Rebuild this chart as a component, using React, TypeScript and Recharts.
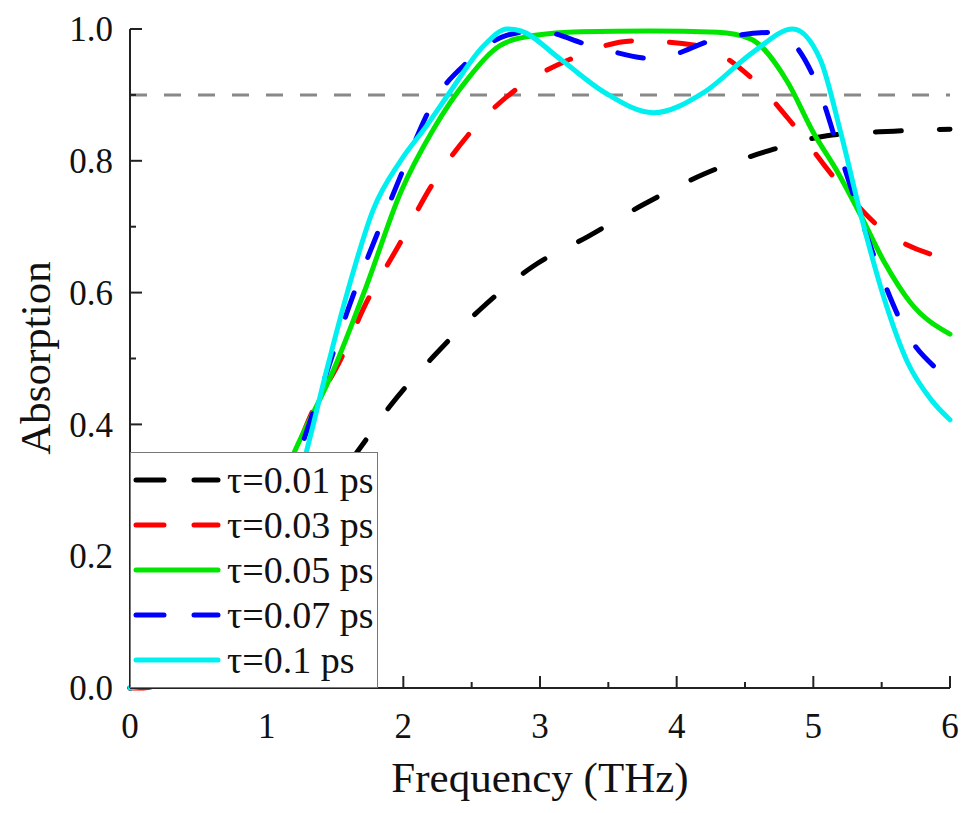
import React from "react";
import { LineChart, Line, XAxis, YAxis, ReferenceLine, Legend } from "recharts";

// Absorption spectra for different relaxation times
const freq001 = [0, 0.4, 0.8, 1.2, 1.69, 1.9, 2.22, 2.56, 2.95, 3.35, 3.76, 4.2, 4.67, 5.1, 5.59, 6.0];
const abs001 = [0, 0.05, 0.13, 0.23, 0.366, 0.427, 0.503, 0.574, 0.64, 0.685, 0.734, 0.78, 0.815, 0.838, 0.845, 0.848];

const freq003 = [0, 0.1, 0.5, 1.0, 1.34, 1.54, 1.73, 1.97, 2.2, 2.47, 2.81, 3.22, 3.69, 4.15, 4.54, 4.86, 5.15, 5.48, 5.91, 6.0];
const abs003 = [0, 0.0, 0.06, 0.24, 0.422, 0.498, 0.585, 0.673, 0.76, 0.838, 0.906, 0.954, 0.982, 0.975, 0.927, 0.853, 0.775, 0.7, 0.655, 0.65];

const freq005 = [0, 0.5, 1.0, 1.22, 1.49, 1.73, 1.98, 2.22, 2.47, 2.71, 2.95, 3.3, 3.8, 4.3, 4.54, 4.81, 5.0, 5.18, 5.35, 5.52, 5.71, 6.0];
const abs005 = [0, 0.05, 0.26, 0.366, 0.483, 0.61, 0.752, 0.848, 0.924, 0.975, 0.99, 0.996, 0.997, 0.995, 0.985, 0.92, 0.843, 0.782, 0.716, 0.646, 0.585, 0.537];

const freq007 = [0, 0.5, 1.0, 1.34, 1.64, 1.83, 2.0, 2.22, 2.47, 2.75, 2.98, 3.37, 3.83, 4.3, 4.71, 5.03, 5.2, 5.49, 5.68, 5.95, 6.0];
const abs007 = [0, 0.05, 0.22, 0.418, 0.6, 0.7, 0.787, 0.889, 0.95, 0.99, 0.997, 0.975, 0.955, 0.985, 0.995, 0.914, 0.807, 0.63, 0.54, 0.475, 0.465];

const freq01 = [0, 0.5, 1.0, 1.3, 1.44, 1.59, 1.78, 1.98, 2.17, 2.34, 2.59, 2.76, 2.86, 3.15, 3.47, 3.83, 4.2, 4.56, 4.85, 5.05, 5.2, 5.35, 5.52, 5.69, 5.86, 6.0];
const abs01 = [0, 0.03, 0.15, 0.366, 0.483, 0.6, 0.726, 0.8, 0.853, 0.904, 0.975, 1.0, 0.997, 0.954, 0.904, 0.873, 0.904, 0.965, 1.0, 0.954, 0.843, 0.716, 0.59, 0.494, 0.438, 0.407];

const xTicks = [0, 0.5, 1, 1.5, 2, 2.5, 3, 3.5, 4, 4.5, 5, 5.5, 6];
const yTicks = [0, 0.1, 0.2, 0.3, 0.4, 0.5, 0.6, 0.7, 0.8, 0.9, 1.0];
const threshold = 0.9;

const zip = (fs: number[], as: number[]) => fs.map((f, i) => ({ f, a: as[i] }));

const series = [
  { name: "τ=0.01 ps", color: "#000000", dash: "26 38", data: zip(freq001, abs001) },
  { name: "τ=0.03 ps", color: "#ff0000", dash: "26 38", data: zip(freq003, abs003) },
  { name: "τ=0.05 ps", color: "#00e600", dash: "", data: zip(freq005, abs005) },
  { name: "τ=0.07 ps", color: "#0000ff", dash: "26 38", data: zip(freq007, abs007) },
  { name: "τ=0.1 ps", color: "#00f0f0", dash: "", data: zip(freq01, abs01) },
];

const FONT = "Liberation Serif, DejaVu Serif";
const W = 960;
const H = 800;
const AXIS_X = 122;
const AXIS_Y = 680;

function YTick(props: any) {
  const { y, payload } = props;
  const major = Math.round(payload.value * 10) % 2 === 0;
  return (
    <g>
      <line x1={AXIS_X} x2={AXIS_X + (major ? 12 : 6)} y1={y} y2={y} stroke="#222" strokeWidth={2} />
      {major && (
        <text x={AXIS_X - 17} y={y} dy="0.35em" textAnchor="end" fontSize={35} style={{ fontFamily: FONT }} fill="#111">
          {payload.value.toFixed(1)}
        </text>
      )}
    </g>
  );
}

function XTick(props: any) {
  const { x, payload } = props;
  const major = Number.isInteger(payload.value);
  return (
    <g>
      <line x1={x} x2={x} y1={AXIS_Y} y2={AXIS_Y - (major ? 12 : 6)} stroke="#222" strokeWidth={2} />
      {major && (
        <text x={x} y={AXIS_Y + 50} textAnchor="middle" fontSize={35} style={{ fontFamily: FONT }} fill="#111">
          {payload.value}
        </text>
      )}
    </g>
  );
}

function LegendBox() {
  return (
    <div
      style={{
        width: 248,
        height: 236,
        boxSizing: "border-box",
        border: "1px solid #777",
        background: "#fff",
        paddingTop: 4,
        fontFamily: FONT,
      }}
    >
      {series.map((s) => (
        <div key={s.name} style={{ display: "flex", alignItems: "center", height: 45 }}>
          <svg width={96} height={20} style={{ flex: "none" }}>
            <line
              x1={5}
              x2={87}
              y1={10}
              y2={10}
              stroke={s.color}
              strokeWidth={5}
              strokeLinecap="round"
              strokeDasharray={s.dash ? "28 30" : undefined}
            />
          </svg>
          <span style={{ fontSize: 38, color: "#111", lineHeight: 1, whiteSpace: "nowrap" }}>{s.name}</span>
        </div>
      ))}
    </div>
  );
}

export default function App() {
  return (
    <div style={{ width: W, height: H, fontFamily: FONT }}>
      <LineChart width={W} height={H} margin={{ top: 21, right: 18, left: 10, bottom: 20 }}>
        <XAxis
          dataKey="f"
          type="number"
          domain={[0, 6]}
          ticks={xTicks}
          interval={0}
          height={100}
          tickLine={false}
          axisLine={{ stroke: "#222", strokeWidth: 2 }}
          tick={<XTick />}
          label={{
            content: () => (
              <text x={532} y={784} textAnchor="middle" fontSize={43} style={{ fontFamily: FONT }} fill="#111">
                Frequency (THz)
              </text>
            ),
          }}
        />
        <XAxis xAxisId="top" orientation="top" type="number" domain={[0, 6]} height={0} tick={false} tickLine={false} axisLine={{ stroke: "#222", strokeWidth: 2 }} />
        <YAxis
          type="number"
          domain={[0, 1]}
          ticks={yTicks}
          interval={0}
          width={112}
          tickLine={false}
          axisLine={{ stroke: "#222", strokeWidth: 2 }}
          tick={<YTick />}
          label={{
            content: () => (
              <text
                x={27}
                y={350}
                textAnchor="middle"
                dominantBaseline="central"
                transform="rotate(-90 27 350)"
                fontSize={43}
                style={{ fontFamily: FONT }}
                fill="#111"
              >
                Absorption
              </text>
            ),
          }}
        />
        <YAxis yAxisId="right" orientation="right" type="number" domain={[0, 1]} width={0} tick={false} tickLine={false} axisLine={{ stroke: "#222", strokeWidth: 2 }} />
        <ReferenceLine y={threshold} stroke="#888" strokeWidth={3} strokeDasharray="17 17" />
        {series.map((s) => (
          <Line
            key={s.name}
            data={s.data}
            dataKey="a"
            name={s.name}
            type="monotone"
            stroke={s.color}
            strokeWidth={5}
            strokeLinecap="round"
            strokeDasharray={s.dash || undefined}
            dot={false}
            activeDot={false}
            isAnimationActive={false}
          />
        ))}
        <Legend
          layout="vertical"
          align="center"
          verticalAlign="middle"
          content={() => <LegendBox />}
          wrapperStyle={{ left: 122, top: 444, width: 248, height: 236 }}
        />
      </LineChart>
    </div>
  );
}
